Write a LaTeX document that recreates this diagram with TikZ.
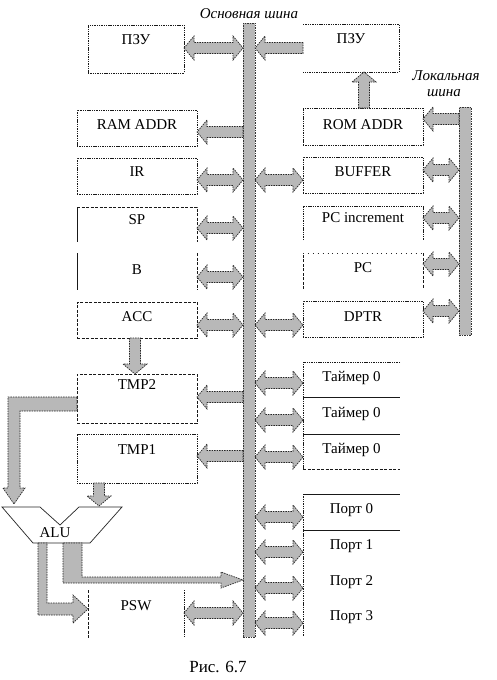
\documentclass[tikz,border=0pt]{standalone}
\usepackage{fontspec}
\setmainfont{Liberation Serif}
\usetikzlibrary{calc}
\def\arrH{12pt}
\def\arrS{5.5pt}
\def\arrL{10pt}
% double horizontal block arrow between #1 and #2 (y of #1)
\newcommand\darr[2]{\draw[blk] let \p1=(#1), \p2=(#2), \n1={ifthenelse(\x2>\x1,1,-1)} in
 (\x1,\y1) -- (\x1+\n1*\arrL,\y1+\arrH) -- (\x1+\n1*\arrL,\y1+\arrS) -- (\x2-\n1*\arrL,\y1+\arrS) -- (\x2-\n1*\arrL,\y1+\arrH) -- (\x2,\y1) -- (\x2-\n1*\arrL,\y1-\arrH) -- (\x2-\n1*\arrL,\y1-\arrS) -- (\x1+\n1*\arrL,\y1-\arrS) -- (\x1+\n1*\arrL,\y1-\arrH) -- cycle;}
% single horizontal block arrow from #1 to #2
\newcommand\sarr[2]{\draw[blk] let \p1=(#1), \p2=(#2), \n1={ifthenelse(\x2>\x1,1,-1)} in
 (\x1,\y1+\arrS) -- (\x2-\n1*\arrL,\y1+\arrS) -- (\x2-\n1*\arrL,\y1+\arrH) -- (\x2,\y1) -- (\x2-\n1*\arrL,\y1-\arrH) -- (\x2-\n1*\arrL,\y1-\arrS) -- (\x1,\y1-\arrS) -- cycle;}
% single vertical block arrow from #1 to #2 (x of #1)
\newcommand\varr[2]{\draw[blk] let \p1=(#1), \p2=(#2), \n1={ifthenelse(\y2>\y1,1,-1)} in
 (\x1-\arrS,\y1) -- (\x1-\arrS,\y2-\n1*\arrL) -- (\x1-\arrH,\y2-\n1*\arrL) -- (\x1,\y2) -- (\x1+\arrH,\y2-\n1*\arrL) -- (\x1+\arrS,\y2-\n1*\arrL) -- (\x1+\arrS,\y1) -- cycle;}
\begin{document}
\begin{tikzpicture}[x=1pt,y=-1pt,
 every node/.style={font=\fontsize{15}{18}\selectfont, inner sep=0pt, outer sep=0pt},
 dotl/.style={draw=black!90, line width=0.8pt, dash pattern=on 1.4pt off 0.9pt},
 dashl/.style={draw=black!90, line width=0.8pt, dash pattern=on 3pt off 1.5pt},
 solidl/.style={draw=black!90, line width=0.9pt},
 box/.style={dotl, anchor=north west, text depth=7pt},
 dbox/.style={dashl, anchor=north west, text depth=7pt},
 plain/.style={anchor=north west, text depth=7pt},
 blk/.style={fill=black!28, draw=black!85, line width=0.7pt, dash pattern=on 1.5pt off 1pt},
 bus/.style={fill=black!28, draw=black!80, line width=0.7pt, dash pattern=on 1.5pt off 1pt, anchor=north west},
 ttl/.style={font=\fontsize{15}{18}\selectfont\itshape}
]
\fill[white] (0,0) rectangle (497,680);
\useasboundingbox (0,0) rectangle (497,680);

% buses
\node[bus, minimum width=12pt, minimum height=614pt] (mbus) at (243,23) {};
\node[bus, minimum width=12pt, minimum height=228pt] (lbus) at (459,107) {};
\node[ttl] (tmain) at (249,14) {Основная шина};
\node[ttl] (tloc1) at (446,76) {Локальная};
\node[ttl] (tloc2) at (444,93) {шина};

% left column
\node[box, minimum width=96pt, minimum height=48pt, text depth=18pt] (rom1) at (88,25) {ПЗУ};
\node[box, minimum width=120pt, minimum height=36pt, text depth=6pt] (ram) at (77,110) {RAM ADDR};
\node[box, minimum width=120pt, minimum height=36pt, text depth=8pt] (ir) at (77,158) {IR};
\node[plain, minimum width=120pt, minimum height=35pt, text depth=9pt] (sp) at (77,207) {SP};
\draw[dashl] (sp.north west) -- (sp.north east) -- (sp.south east);
\draw[solidl] (sp.north west) -- (sp.south west);
\node[plain, minimum width=120pt, minimum height=37pt, text depth=3pt] (b) at (77,253) {B};
\draw[solidl] (b.north west) -- (b.south west);
\draw[dashl] (b.north east) -- (b.south east);
\node[dbox, minimum width=120pt, minimum height=36pt, text depth=6pt] (acc) at (77,302) {ACC};
\node[dbox, minimum width=120pt, minimum height=49pt, text depth=27pt] (tmp2) at (77,374) {TMP2};
\node[box, minimum width=120pt, minimum height=49pt, text depth=17pt] (tmp1) at (77,434) {TMP1};
\node[plain, minimum width=96pt, minimum height=48pt, text depth=16pt] (psw) at (88,590) {PSW};
\draw[dashl] (psw.north west) -- (psw.south west);
\draw[dotl] (psw.north east) -- (psw.south east);

% right column
\node[plain, minimum width=96pt, minimum height=48pt, text depth=18pt] (rom2) at (303,24) {ПЗУ};
\draw[dotl] (rom2.north west) -- (rom2.north east) -- (rom2.south east) -- (rom2.south west);
\node[box, minimum width=120pt, minimum height=37pt, text depth=3pt] (romaddr) at (303,108) {ROM ADDR};
\node[box, minimum width=120pt, minimum height=36pt, text depth=6pt] (buf) at (303,157) {BUFFER};
\node[plain, minimum width=120pt, minimum height=34pt, text depth=10pt] (pcinc) at (303,206) {PC increment};
\draw[dotl] (pcinc.south west) -- (pcinc.north west) -- (pcinc.north east) -- (pcinc.south east);
\node[plain, minimum width=120pt, minimum height=36pt, text depth=6pt] (pc) at (303,253) {PC};
\draw[dashl] (pc.south west) -- (pc.north west);
\draw[dashl] (pc.north east) -- (pc.south east);
\draw[draw=black!85, line width=0.8pt, dash pattern=on 0.9pt off 4pt] (pc.north west) -- (pc.north east);
\node[box, minimum width=120pt, minimum height=36pt, text depth=4pt] (dptr) at (303,301) {DPTR};

% timers
\node[plain, minimum width=97pt, minimum height=35pt] (tim1) at (303,362) {Таймер 0};
\node[plain, minimum width=97pt, minimum height=37pt] (tim2) at (303,397) {Таймер 0};
\node[plain, minimum width=97pt, minimum height=35pt] (tim3) at (303,434) {Таймер 0};
\draw[dotl] (tim1.north east) -- (tim1.north west) -- (tim3.south west);
\draw[solidl] (tim2.north west) -- (tim2.north east);
\draw[solidl] (tim3.north west) -- (tim3.north east);
\draw[dashl] (tim3.south west) -- (tim3.south east);

% ports
\node[plain, minimum width=97pt, minimum height=36pt] (port0) at (303,494) {Порт 0};
\node[plain, minimum width=97pt, minimum height=36pt] (port1) at (303,530) {Порт 1};
\node[plain, minimum width=97pt, minimum height=36pt] (port2) at (303,566) {Порт 2};
\node[plain, minimum width=97pt, minimum height=34pt] (port3) at (303,602) {Порт 3};
\draw[solidl] (port0.north west) -- (port0.north east);
\draw[solidl] (port1.north west) -- (port1.north east);
\draw[dotl] (port0.north west) -- (port3.south west);

% arrows, top part
\darr{rom1.east |- 0,48}{mbus.west |- 0,48}
\sarr{rom2.west |- 0,48}{mbus.east |- 0,48}
\varr{romaddr.north -| 364,0}{rom2.south -| 364,0}
\sarr{mbus.west |- 0,132}{ram.east |- 0,132}
\sarr{lbus.west |- 0,119}{romaddr.east |- 0,119}
\darr{ir.east |- 0,180}{mbus.west |- 0,180}
\darr{mbus.east |- 0,180}{buf.west |- 0,180}
\darr{buf.east |- 0,170}{lbus.west |- 0,170}
\darr{sp.east |- 0,228}{mbus.west |- 0,228}
\darr{pcinc.east |- 0,218}{lbus.west |- 0,218}
\darr{b.east |- 0,277}{mbus.west |- 0,277}
\darr{pc.east |- 0,264}{lbus.west |- 0,264}
\darr{acc.east |- 0,325}{mbus.west |- 0,325}
\darr{mbus.east |- 0,325}{dptr.west |- 0,325}
\darr{dptr.east |- 0,311}{lbus.west |- 0,311}
\varr{acc.south -| 135,0}{tmp2.north -| 135,0}

% arrows, lower part
\sarr{mbus.west |- 0,397}{tmp2.east |- 0,397}
\sarr{mbus.west |- 0,456}{tmp1.east |- 0,456}
\darr{mbus.east |- 0,383}{tim1.west |- 0,383}
\darr{mbus.east |- 0,420}{tim2.west |- 0,420}
\darr{mbus.east |- 0,457}{tim3.west |- 0,457}
\darr{mbus.east |- 0,517}{port0.west |- 0,517}
\darr{mbus.east |- 0,552}{port1.west |- 0,552}
\darr{mbus.east |- 0,588}{port2.west |- 0,588}
\darr{mbus.east |- 0,623}{port3.west |- 0,623}
\darr{psw.east |- 0,613}{mbus.west |- 0,613}

% ALU
\draw[draw=black!85, line width=0.7pt] (2,507) -- (40,507) -- (60,525) -- (79,507) -- (122,507) -- (90,543) -- (33,543) -- cycle;
\node (alu) at (55,533) {ALU};
\varr{tmp1.south -| 99,0}{99,506}
\draw[blk] (tmp2.west |- 0,397) -- (8,397) -- (8,488) -- (3,488) -- (14,504) -- (25,488) -- (20,488) -- (20,411) -- (tmp2.west |- 0,411) -- cycle;
\draw[blk] (38,543) -- (38,615) -- (73,615) -- (73,623) -- (psw.west |- 0,609) -- (73,595) -- (73,603) -- (47,603) -- (47,543) -- cycle;
\draw[blk] (63,543) -- (63,583) -- (221,583) -- (221,588) -- (mbus.west |- 0,580) -- (221,572) -- (221,577) -- (82,577) -- (82,543) -- cycle;

% caption
\node[font=\fontsize{17}{20}\selectfont] (cap) at (218,667) {Рис. 6.7};
\end{tikzpicture}
\end{document}
